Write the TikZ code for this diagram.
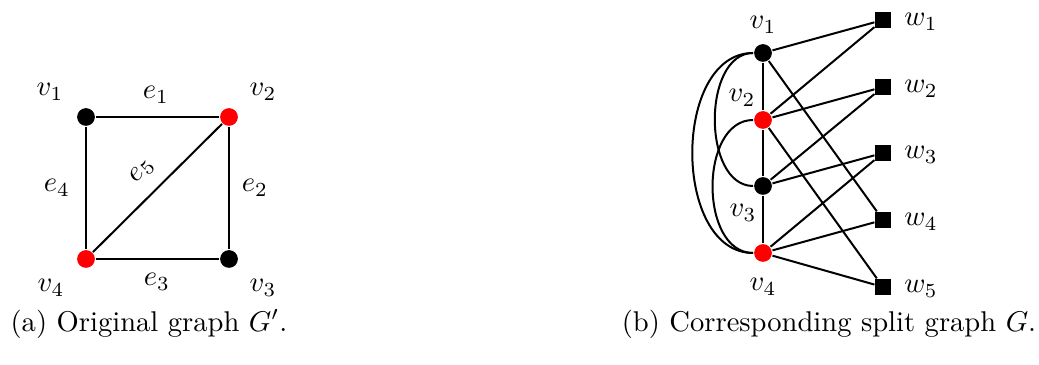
\documentclass[tikz,border=0pt]{standalone}
\begin{document}
\begin{tikzpicture}[x=0.35pt,y=-0.35pt,line width=0.7pt,
  bv/.style={circle,fill=black,inner sep=0pt,minimum size=6.2pt},
  rv/.style={circle,fill=red,inner sep=0pt,minimum size=6.2pt},
  sq/.style={rectangle,fill=black,inner sep=0pt,minimum size=5.3pt},
  lab/.style={inner sep=0pt}]
\useasboundingbox (0,0) rectangle (1039,365);
% (a)
\node[bv] (a1) at (86,117) {};
\node[rv] (a2) at (229,117) {};
\node[bv] (a3) at (229,259) {};
\node[rv] (a4) at (86,259) {};
\draw (a1) -- (a2) -- (a3) -- (a4) -- (a1);
\draw (a4) -- (a2);
\node[lab] (la1) at (50,92) {$v_1$};
\node[lab] (la2) at (263,92) {$v_2$};
\node[lab] (la3) at (263,288) {$v_3$};
\node[lab] (la4) at (51,288) {$v_4$};
\node[lab] (le1) at (156,95) {$e_1$};
\node[lab] (le2) at (255,188) {$e_2$};
\node[lab] (le3) at (157,282) {$e_3$};
\node[lab] (le4) at (57,188) {$e_4$};
\node[lab,rotate=45] (le5) at (142,171) {$e_5$};
% (b)
\node[bv] (b1) at (763,53) {};
\node[rv] (b2) at (763,120) {};
\node[bv] (b3) at (763,186) {};
\node[rv] (b4) at (763,253) {};
\node[sq] (w1) at (883,20) {};
\node[sq] (w2) at (883,87) {};
\node[sq] (w3) at (883,153) {};
\node[sq] (w4) at (883,220) {};
\node[sq] (w5) at (883,287) {};
\draw (b1) -- (b2) -- (b3) -- (b4);
\draw (b1) .. controls +(-61,0) and +(-61,0) .. (b3);
\draw (b2) .. controls +(-64,0) and +(-64,0) .. (b4);
\draw (b1) .. controls +(-91,0) and +(-91,0) .. (b4);
\draw (b1) -- (w1); \draw (b1) -- (w4);
\draw (b2) -- (w1); \draw (b2) -- (w2); \draw (b2) -- (w5);
\draw (b3) -- (w2); \draw (b3) -- (w3);
\draw (b4) -- (w3); \draw (b4) -- (w4); \draw (b4) -- (w5);
\node[lab] (lb1) at (763,25) {$v_1$};
\node[lab] (lb2) at (742,98) {$v_2$};
\node[lab] (lb3) at (743,213) {$v_3$};
\node[lab] (lb4) at (763,287) {$v_4$};
\node[lab] (lw1) at (921,22) {$w_1$};
\node[lab] (lw2) at (921,89) {$w_2$};
\node[lab] (lw3) at (921,155) {$w_3$};
\node[lab] (lw4) at (921,222) {$w_4$};
\node[lab] (lw5) at (921,289) {$w_5$};
% captions
\node[lab] (ca) at (149,324) {(a) Original graph $G'$.};
\node[lab] (cb) at (829,324) {(b) Corresponding split graph $G$.};
\end{tikzpicture}
\end{document}
